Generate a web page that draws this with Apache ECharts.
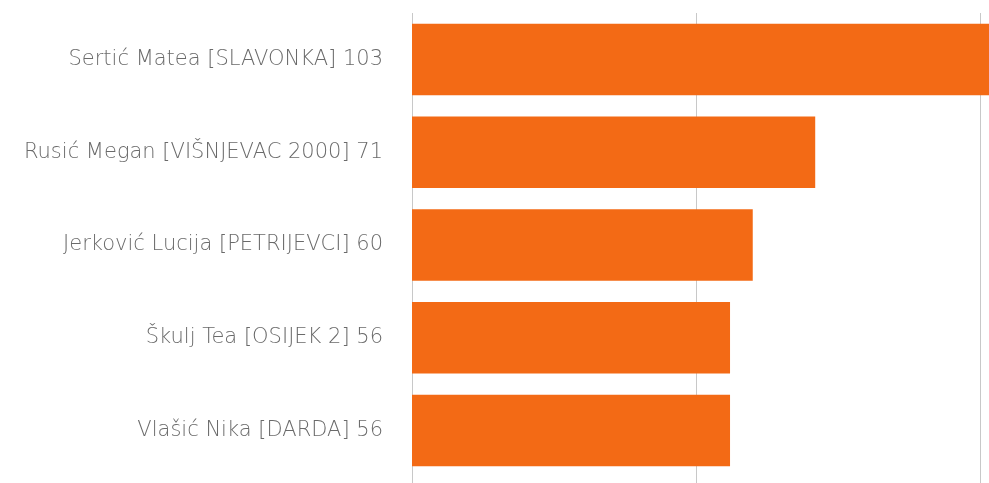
<!DOCTYPE html>
<html>
<head>
<meta charset="utf-8">
<script src="https://cdn.jsdelivr.net/npm/echarts@6/dist/echarts.min.js"></script>
<style>
    html, body { margin: 0; padding: 0; background: #fff; }
    #chart { width: 989px; height: 483px; }
</style>
</head>
<body>
<div id="chart"></div>
<script>
// podaci
var players = ['Sertić Matea [SLAVONKA]', 'Rusić Megan [VIŠNJEVAC 2000]', 'Jerković Lucija [PETRIJEVCI]', 'Škulj Tea [OSIJEK 2]', 'Vlašić Nika [DARDA]'];
var points = [103, 71, 60, 56, 56];

var labels = players.map(function (p, i) {
    return p + ' ' + points[i];
});

var chart = echarts.init(document.getElementById('chart'));
chart.setOption({
    animation: false,
    grid: {
        left: 412,
        right: 0,
        top: 13,
        bottom: 6,
        containLabel: false
    },
    xAxis: {
        type: 'value',
        min: 0,
        max: 101.6,
        interval: 50,
        axisLine: { show: false },
        axisTick: { show: true, length: 6, lineStyle: { color: '#c8c8c8', width: 1 } },
        axisLabel: { show: false },
        splitLine: { show: true, lineStyle: { color: '#c8c8c8', width: 1 } }
    },
    yAxis: {
        type: 'category',
        inverse: true,
        data: labels,
        axisLine: { show: false },
        axisTick: { show: false },
        axisLabel: {
            margin: 29,
            color: '#6a6a6a',
            fontSize: 21,
            fontFamily: 'DejaVu Sans',
            fontWeight: 200
        }
    },
    series: [{
        type: 'bar',
        data: points,
        barCategoryGap: '23%',
        itemStyle: { color: '#f36a15' }
    }]
});
</script>
</body>
</html>
